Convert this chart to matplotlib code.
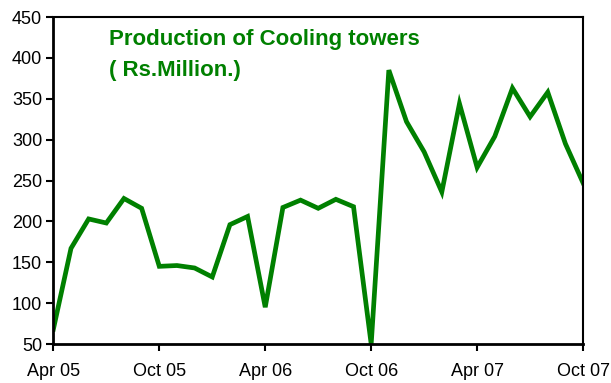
import matplotlib.pyplot as plt
import numpy as np

plt.rcParams['font.family'] = ['Liberation Sans', 'DejaVu Sans']

# Monthly production, Apr 05 .. Oct 07 (Rs. million)
months = np.arange(31)
production = [68, 167, 203, 198, 228, 216, 145, 146, 143, 132, 196, 206,
              95, 217, 226, 216, 227, 218, 50, 385, 322, 285, 236, 344,
              266, 304, 363, 328, 358, 295, 247]
tick_positions = [0, 6, 12, 18, 24, 30]
tick_labels = ['Apr 05', 'Oct 05', 'Apr 06', 'Oct 06', 'Apr 07', 'Oct 07']

fig = plt.figure(figsize=(6.11, 3.83), dpi=100)
ax = fig.add_axes([0.0873, 0.1018, 0.8670, 0.8538])

ax.plot(months, production, color='#008000', linewidth=3.4,
        solid_joinstyle='miter')

ax.set_xlim(0, 30)
ax.set_ylim(50, 450)
ax.set_xticks(tick_positions)
ax.set_xticklabels(tick_labels)
ax.set_yticks(np.arange(50, 451, 50))

ax.tick_params(axis='both', direction='out', length=5, width=1.5,
               labelsize=13, colors='black')
ax.tick_params(axis='x', pad=9)
ax.tick_params(axis='y', pad=3)
for side in ['left', 'bottom']:
    ax.spines[side].set_linewidth(2)
for side in ['top', 'right']:
    ax.spines[side].set_linewidth(1.5)

ax.text(0.106, 0.962, 'Production of Cooling towers\n( Rs.Million.)',
        transform=ax.transAxes, ha='left', va='top', fontsize=16,
        fontweight='bold', color='#008000', linespacing=1.6)

fig.savefig('out.png', dpi=100)
